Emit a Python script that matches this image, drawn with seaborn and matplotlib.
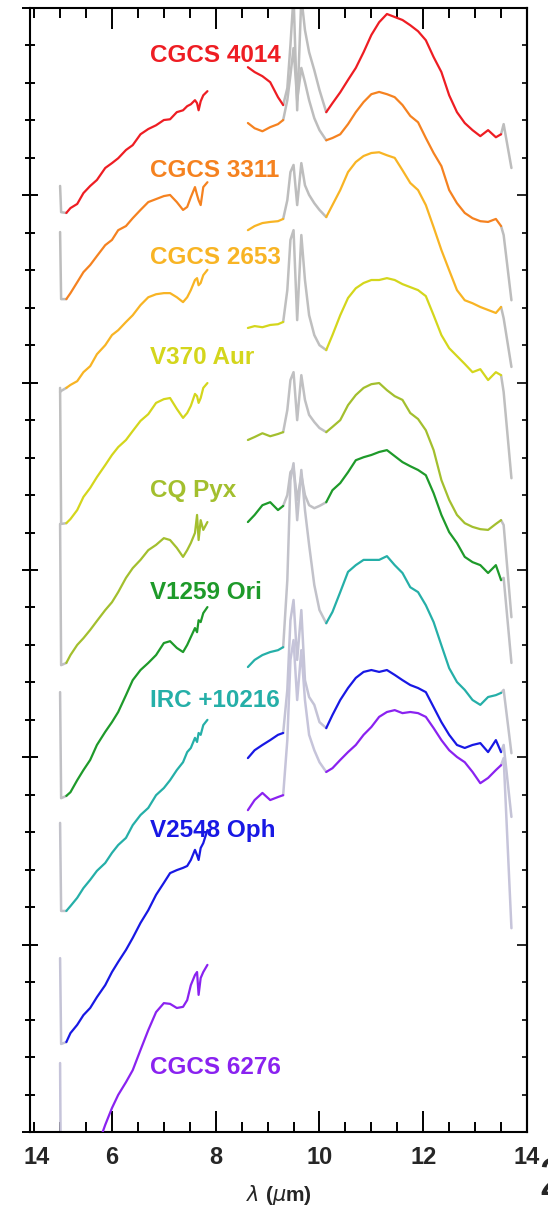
import numpy as np
import matplotlib
matplotlib.use("Agg")
import matplotlib.pyplot as plt
import seaborn as sns
from matplotlib.ticker import MultipleLocator

sns.set_style("white")
plt.rcParams["font.family"] = ["Liberation Sans", "DejaVu Sans"]
plt.rcParams["mathtext.fontset"] = "dejavusans"

# ---------------- data ----------------
wave_left = [5.00, 5.02, 5.12, 5.20, 5.33, 5.45, 5.58, 5.71, 5.87, 6.00, 6.12, 6.27, 6.40, 6.55,
             6.70, 6.85, 7.00, 7.12, 7.25, 7.37, 7.45, 7.52, 7.60, 7.64, 7.67, 7.71, 7.76, 7.84]
wave_right = [8.62, 8.75, 8.90, 9.05, 9.20, 9.30, 9.38, 9.44, 9.50, 9.57, 9.65, 9.72, 9.80, 9.90,
              10.00, 10.13, 10.25, 10.40, 10.55, 10.70, 10.85, 11.00, 11.15, 11.30, 11.45, 11.60,
              11.75, 11.90, 12.05, 12.20, 12.35, 12.50, 12.65, 12.80, 12.95, 13.10, 13.25, 13.40,
              13.50, 13.55, 13.70]

cgcs4014_left = [25.25, 24.55, 24.53, 24.66, 24.77, 25.06, 25.25, 25.41, 25.73, 25.86, 25.99, 26.21, 26.34, 26.63,
                 26.77, 26.87, 27.01, 27.03, 27.22, 27.27, 27.38, 27.43, 27.54, 27.46, 27.27, 27.51, 27.67, 27.78]
cgcs4014_right = [28.42, 28.29, 28.18, 28.02, 27.62, 27.41, 27.86, 29.01, 30.34, 27.27, 30.29, 29.41, 28.82, 28.34,
                  27.81, 27.22, 27.46, 27.75, 28.08, 28.40, 28.82, 29.28, 29.62, 29.84, 29.76, 29.68, 29.54, 29.38,
                  29.14, 28.69, 28.29, 27.67, 27.22, 26.93, 26.74, 26.58, 26.74, 26.55, 26.63, 26.90, 25.73]

cgcs3311_left = [24.02, 22.23, 22.23, 22.39, 22.68, 22.95, 23.14, 23.38, 23.67, 23.81, 24.07, 24.18, 24.39, 24.61,
                 24.82, 24.90, 24.98, 25.01, 24.82, 24.61, 24.69, 24.95, 25.22, 25.01, 24.87, 24.74, 25.22, 25.35]
cgcs3311_right = [26.93, 26.79, 26.71, 26.82, 26.90, 27.01, 27.54, 28.21, 28.93, 27.54, 28.40, 28.02, 27.54, 27.06,
                  26.74, 26.47, 26.53, 26.63, 26.90, 27.22, 27.49, 27.70, 27.76, 27.70, 27.62, 27.41, 27.12, 26.95,
                  26.53, 26.13, 25.78, 25.14, 24.79, 24.53, 24.39, 24.31, 24.29, 24.37, 24.18, 23.94, 22.20]

cgcs2653_left = [19.75, 19.78, 19.86, 19.94, 20.04, 20.28, 20.44, 20.76, 21.00, 21.27, 21.40, 21.62, 21.80, 22.07,
                 22.28, 22.36, 22.39, 22.39, 22.28, 22.15, 22.28, 22.47, 22.74, 22.79, 22.60, 22.66, 22.87, 23.01]
cgcs2653_right = [24.07, 24.18, 24.26, 24.29, 24.31, 24.37, 24.87, 25.62, 25.81, 24.74, 25.86, 25.27, 25.01, 24.79,
                  24.61, 24.42, 24.74, 25.14, 25.62, 25.89, 26.05, 26.13, 26.15, 26.07, 26.00, 25.67, 25.33, 25.14,
                  24.74, 24.15, 23.54, 23.00, 22.47, 22.20, 22.12, 22.02, 21.94, 21.86, 22.02, 21.72, 20.42]

v370_left = [19.86, 16.23, 16.25, 16.36, 16.60, 16.95, 17.19, 17.48, 17.80, 18.07, 18.28, 18.47, 18.71, 18.98,
             19.16, 19.46, 19.56, 19.59, 19.30, 19.06, 19.19, 19.38, 19.70, 19.64, 19.46, 19.59, 19.86, 19.99]
v370_right = [21.46, 21.51, 21.48, 21.54, 21.56, 21.62, 22.47, 23.81, 24.07, 21.67, 23.94, 22.74, 21.80, 21.27,
              21.00, 20.87, 21.27, 21.80, 22.26, 22.52, 22.66, 22.74, 22.74, 22.79, 22.74, 22.63, 22.55, 22.47,
              22.31, 21.80, 21.27, 20.92, 20.71, 20.50, 20.28, 20.36, 20.07, 20.28, 20.20, 19.75, 17.45]

cqpyx_left = [16.23, 12.46, 12.52, 12.73, 13.00, 13.18, 13.40, 13.64, 13.93, 14.14, 14.41, 14.79, 15.05, 15.27,
              15.53, 15.67, 15.85, 15.80, 15.59, 15.35, 15.53, 15.72, 15.99, 16.47, 15.80, 16.33, 16.07, 16.28]
cqpyx_right = [18.47, 18.55, 18.65, 18.57, 18.63, 18.68, 19.27, 20.07, 20.28, 19.00, 20.20, 19.54, 19.14, 18.95,
               18.79, 18.68, 18.82, 19.00, 19.40, 19.67, 19.86, 19.96, 19.99, 19.80, 19.64, 19.54, 19.19, 19.03,
               18.73, 18.20, 17.40, 16.87, 16.47, 16.25, 16.15, 16.09, 16.07, 16.23, 16.33, 16.20, 13.74]

v1259_left = [11.74, 8.91, 8.97, 9.07, 9.39, 9.66, 9.93, 10.33, 10.68, 10.94, 11.21, 11.66, 12.06, 12.33,
              12.52, 12.73, 13.05, 13.10, 12.92, 12.81, 13.00, 13.21, 13.45, 13.34, 13.66, 13.61, 13.85, 14.01]
v1259_right = [16.28, 16.47, 16.73, 16.81, 16.60, 16.71, 17.00, 17.61, 17.72, 16.87, 17.53, 17.00, 16.73, 16.65,
               16.71, 16.81, 17.13, 17.32, 17.61, 17.93, 18.01, 18.07, 18.15, 18.20, 18.04, 17.88, 17.77, 17.67,
               17.53, 17.05, 16.47, 16.01, 15.72, 15.35, 15.21, 15.13, 14.92, 15.13, 14.73, 14.79, 12.52]

irc_left = [8.25, 5.90, 5.90, 6.03, 6.25, 6.51, 6.73, 6.97, 7.18, 7.45, 7.66, 7.85, 8.19, 8.46,
            8.65, 8.99, 9.18, 9.39, 9.66, 9.87, 10.14, 10.25, 10.52, 10.41, 10.65, 10.60, 10.86, 11.00]
irc_right = [12.41, 12.60, 12.73, 12.81, 12.86, 12.94, 14.73, 17.40, 17.85, 16.33, 17.67, 16.60, 15.67, 14.60,
             13.93, 13.58, 13.88, 14.41, 14.95, 15.13, 15.27, 15.27, 15.27, 15.37, 15.13, 14.92, 14.54, 14.41,
             14.06, 13.61, 12.99, 12.38, 12.01, 11.80, 11.53, 11.40, 11.61, 11.66, 11.72, 11.80, 10.11]

v2548_left = [4.64, 2.35, 2.40, 2.64, 2.86, 3.12, 3.31, 3.60, 3.92, 4.27, 4.54, 4.86, 5.18, 5.58,
              5.92, 6.33, 6.65, 6.91, 6.99, 7.05, 7.10, 7.26, 7.53, 7.39, 7.26, 7.58, 7.71, 8.06]
v2548_right = [9.98, 10.19, 10.33, 10.46, 10.60, 10.65, 11.80, 13.66, 14.20, 12.60, 13.93, 12.06, 11.61, 11.40,
               10.94, 10.78, 11.13, 11.53, 11.85, 12.12, 12.28, 12.33, 12.28, 12.33, 12.20, 12.06, 11.93, 11.85,
               11.74, 11.34, 10.94, 10.60, 10.33, 10.25, 10.33, 10.38, 10.14, 10.46, 10.14, 10.33, 8.41]

cgcs6276_left = [1.84, -2.48, -2.40, -2.14, -1.68, -1.28, -0.88, -0.43, 0.19, 0.64, 0.99, 1.33, 1.65, 2.19,
                 2.72, 3.20, 3.44, 3.42, 3.31, 3.34, 3.52, 3.92, 4.19, 4.27, 3.66, 4.11, 4.27, 4.46]
cgcs6276_right = [8.59, 8.86, 9.05, 8.86, 8.94, 8.99, 10.46, 12.60, 13.13, 11.53, 12.86, 11.53, 10.60, 10.19,
                  9.87, 9.61, 9.71, 9.93, 10.14, 10.33, 10.60, 10.81, 11.08, 11.21, 11.26, 11.18, 11.21, 11.18,
                  11.08, 10.78, 10.46, 10.19, 10.01, 9.87, 9.61, 9.31, 9.45, 9.66, 9.79, 9.98, 5.44]

star_names = ["CGCS 4014", "CGCS 3311", "CGCS 2653", "V370 Aur", "CQ Pyx",
              "V1259 Ori", "IRC +10216", "V2548 Oph", "CGCS 6276"]
star_colors = ["#EE1D23", "#F58220", "#F8B424", "#D4D61C", "#A3BF2E",
               "#1E9A2A", "#25AFA8", "#1818E4", "#8A22F0"]
gray_colors = ["#BDBDBD", "#BDBDBD", "#BDBDBD", "#BFBFBF", "#C0C0C2",
               "#C0C0C4", "#C2C2CA", "#C4C3D6", "#C6C4DA"]
label_y = [28.72, 25.67, 23.35, 20.68, 17.13, 14.41, 11.53, 8.06, 1.71]
label_x = 6.74

left_flux = [cgcs4014_left, cgcs3311_left, cgcs2653_left, v370_left, cqpyx_left,
             v1259_left, irc_left, v2548_left, cgcs6276_left]
right_flux = [cgcs4014_right, cgcs3311_right, cgcs2653_right, v370_right, cqpyx_right,
              v1259_right, irc_right, v2548_right, cgcs6276_right]

gray_ranges = [(5.00, 5.12), (9.30, 10.13), (13.50, 13.70)]
color_ranges = [(5.12, 7.84), (8.62, 9.30), (10.13, 13.50)]

# ---------------- figure ----------------
W, H = 548, 1225
fig = plt.figure(figsize=(W / 100, H / 100), dpi=100)
ax = fig.add_axes([30 / W, 1 - 1132 / H, 497 / W, 1124 / H])


def draw(xs, ys, lo, hi, color, lw, z):
    xs = np.asarray(xs, float)
    ys = np.asarray(ys, float)
    m = (xs >= lo - 1e-9) & (xs <= hi + 1e-9)
    if m.sum() < 2:
        return
    sns.lineplot(x=xs[m], y=ys[m], color=color, linewidth=lw, estimator=None,
                 sort=False, ax=ax, zorder=z, legend=False)


for i in range(len(star_names)):
    for xs, ys in ((wave_left, left_flux[i]), (wave_right, right_flux[i])):
        for lo, hi in gray_ranges:
            draw(xs, ys, lo, hi, gray_colors[i], 1.8, 2)
for i in range(len(star_names)):
    for xs, ys in ((wave_left, left_flux[i]), (wave_right, right_flux[i])):
        for lo, hi in color_ranges:
            draw(xs, ys, lo, hi, star_colors[i], 1.6, 3)
    ax.text(label_x, label_y[i], star_names[i], color=star_colors[i], fontsize=17.5,
            fontweight="bold", ha="left", va="center", zorder=4)

ax.set_xlim(4.42, 14.0)
ax.set_ylim(0, 30)
ax.set_xticks([6, 8, 10, 12, 14])
ax.xaxis.set_minor_locator(MultipleLocator(0.5))
ax.yaxis.set_major_locator(MultipleLocator(5))
ax.yaxis.set_minor_locator(MultipleLocator(1))
ax.tick_params(axis="x", which="both", direction="in", top=True, bottom=True,
               width=1.4, color="black", labelsize=17, pad=10)
ax.tick_params(axis="x", which="major", length=15)
ax.tick_params(axis="x", which="minor", length=7.5)
ax.tick_params(axis="y", which="both", direction="inout", left=True, right=False,
               labelleft=False, width=1.4, color="black")
ax.tick_params(axis="y", which="major", length=11)
ax.tick_params(axis="y", which="minor", length=7)
for lab in ax.get_xticklabels():
    lab.set_fontweight("bold")

sec = ax.secondary_yaxis("right")
sec.yaxis.set_major_locator(MultipleLocator(5))
sec.yaxis.set_minor_locator(MultipleLocator(1))
sec.tick_params(axis="y", which="both", direction="in", width=1.4, labelright=False)
sec.tick_params(axis="y", which="major", length=7)
sec.tick_params(axis="y", which="minor", length=3.6)
sec.spines["right"].set_linewidth(1.5)

for s in ax.spines.values():
    s.set_visible(True)
    s.set_color("black")
    s.set_linewidth(1.5)

ax.set_xlabel(r"$\lambda$ ($\mu$m)", fontsize=15, fontweight="bold", labelpad=10)

fig.text(37 / W, 1 - 1157 / H, "14", fontsize=17, fontweight="bold", ha="center", va="center")
fig.text(538 / W, 1 - 1195 / H, "2", fontsize=38, ha="left", va="baseline")

fig.savefig("out.png", dpi=100)
